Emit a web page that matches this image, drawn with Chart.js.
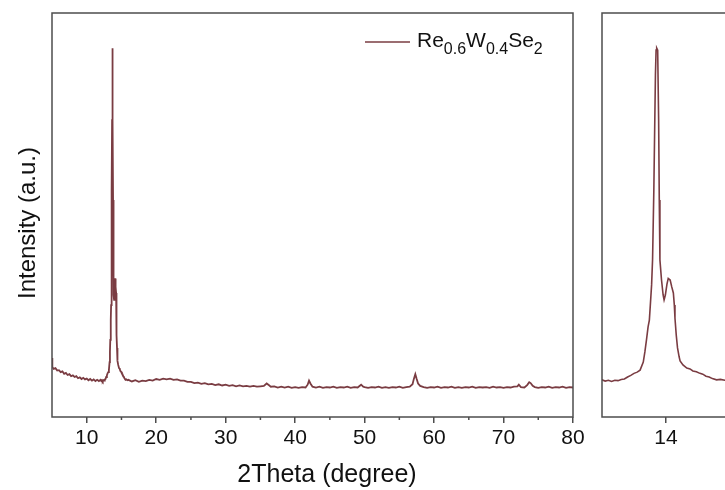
<!DOCTYPE html>
<html>
<head>
<meta charset="utf-8">
<title>Re0.6W0.4Se2 XRD</title>
<script src="https://cdn.jsdelivr.net/npm/chart.js@4.4.1/dist/chart.umd.min.js"></script>
<style>
    html, body { margin: 0; padding: 0; background: #fff; overflow: hidden; }
    #wrap { position: relative; width: 725px; height: 490px; overflow: hidden; }
    #main { position: absolute; left: 0; top: 0; }
    #zoom { position: absolute; left: 590px; top: 0; }
</style>
</head>
<body>
<div id="wrap">
    <canvas id="main" width="590" height="490"></canvas>
    <canvas id="zoom" width="200" height="490"></canvas>
</div>
<script>
// XRD pattern, 2theta in degrees and intensity in arbitrary units
var twoTheta = [
    5.00, 5.05, 5.25, 5.50, 5.75, 6.00, 6.25, 6.50, 6.75, 7.00, 7.25, 7.50, 7.75, 8.00, 8.25, 8.50, 8.75,
    9.00, 9.25, 9.50, 9.75, 10.00, 10.25, 10.50, 10.75, 11.00, 11.25, 11.50, 11.75,
    12.0, 12.1, 12.2, 12.3, 12.4, 12.5, 12.6, 12.7, 12.8, 12.9, 13.0, 13.1,
    13.19, 13.29, 13.34, 13.39, 13.44, 13.48, 13.51, 13.55, 13.58, 13.62, 13.65, 13.67, 13.69, 13.71,
    13.74, 13.77, 13.79, 13.81, 13.86, 13.91, 13.94, 13.98, 14.03, 14.07, 14.13, 14.18, 14.23, 14.26,
    14.28, 14.32, 14.36, 14.41, 14.44, 14.53, 14.65,
    14.75, 14.84, 14.95, 15.06, 15.15, 15.25, 15.35, 15.45, 15.58, 15.70, 15.84, 16.0,
    16.5, 17.0, 17.5, 18.0, 18.5, 19.0, 19.5, 20.0, 20.5, 21.0, 21.5, 22.0, 22.5, 23.0, 23.5, 24.0,
    24.5, 25.0, 25.5, 26.0, 26.5, 27.0, 27.5, 28.0, 28.5, 29.0, 29.5, 30.0, 30.5, 31.0, 31.5, 32.0,
    32.5, 33.0, 33.5, 34.0, 34.5, 35.0, 35.5, 35.9, 36.2, 36.5, 37.0, 37.5, 38.0, 38.5, 39.0, 39.5,
    40.0, 40.5, 41.0, 41.5, 41.8, 42.0, 42.2, 42.5, 43.0, 43.5, 44.0, 44.5, 45.0, 45.5, 46.0, 46.5,
    47.0, 47.5, 48.0, 48.5, 49.0, 49.5, 49.8, 50.0, 50.5, 51.0, 51.5, 52.0, 52.5, 53.0, 53.5, 54.0,
    54.5, 55.0, 55.5, 56.0, 56.5, 56.9, 57.1, 57.3, 57.5, 57.7, 58.0, 58.5, 59.0, 59.5, 60.0, 60.5,
    61.0, 61.5, 62.0, 62.5, 63.0, 63.5, 64.0, 64.5, 65.0, 65.5, 66.0, 66.5, 67.0, 67.5, 68.0, 68.5,
    69.0, 69.5, 70.0, 70.5, 71.0, 71.5, 72.0, 72.2, 72.5, 73.0, 73.4, 73.7, 73.9, 74.2, 74.5, 75.0,
    75.5, 76.0, 76.5, 77.0, 77.5, 78.0, 78.5, 79.0, 79.5, 80.0
];
var intensity = [
    146, 124, 119, 121, 115, 116, 111, 113, 107, 109, 104, 106, 101, 103, 99, 101, 96,
    98, 94, 97, 93, 95, 91, 94, 90, 93, 89, 92, 89,
    92, 89, 91, 88, 91, 90, 93, 94, 99, 103, 108, 111,
    116, 136, 161, 191, 223, 240, 277, 327, 389, 562, 735, 847, 908, 913,
    908, 735, 537, 389, 339, 302, 290, 302, 329, 343, 339, 322, 307, 277,
    245, 203, 171, 149, 139, 129, 121,
    119, 114, 112, 108, 106, 101, 99, 95, 92, 93, 91, 92,
    88, 91, 87, 90, 89, 92, 90, 94, 92, 95, 93, 95, 92, 93, 90, 90,
    87, 87, 84, 85, 82, 84, 81, 82, 79, 81, 78, 80, 77, 79, 76, 78,
    76, 77, 75, 77, 75, 76, 77, 83, 79, 75, 76, 73, 75, 73, 75, 72,
    74, 72, 74, 73, 80, 90, 83, 75, 73, 75, 72, 74, 73, 75, 72, 74,
    73, 75, 72, 74, 73, 80, 75, 74, 72, 74, 73, 75, 72, 74, 72, 74,
    73, 75, 72, 74, 75, 81, 95, 106, 94, 83, 77, 74, 72, 74, 73, 75,
    72, 74, 73, 75, 72, 74, 72, 74, 73, 75, 72, 74, 73, 74, 72, 75,
    73, 74, 72, 74, 73, 75, 76, 80, 74, 73, 79, 86, 84, 77, 74, 72,
    74, 73, 75, 72, 74, 73, 75, 72, 74, 73
];

var mainTicks = [10, 20, 30, 40, 50, 60, 70, 80];
var mainMinorTicks = [15, 25, 35, 45, 55, 65, 75];
var zoomTicks = [14];

// legend text pieces, every second one is a subscript
var seriesName = ["Re", "0.6", "W", "0.4", "Se", "2"];

var lineColor = "#7a3c42";
var axisColor = "#4d4d4d";
var textColor = "#111";
var fontFamily = "'Liberation Sans', Arial, sans-serif";

Chart.defaults.font.family = fontFamily;
Chart.defaults.color = textColor;

var points = twoTheta.map(function (t, i) { return { x: t, y: intensity[i] }; });

// box round the plot area plus the short minor ticks
var framePlugin = {
    id: "frame",
    afterDraw: function (chart, args, opts) {
        var a = chart.chartArea;
        var ctx = chart.ctx;
        ctx.save();
        ctx.strokeStyle = axisColor;
        ctx.lineWidth = 1.5;
        ctx.strokeRect(a.left, a.top, a.right - a.left, a.bottom - a.top);
        if (opts.minor) {
            var xs = chart.scales.x;
            opts.minor.forEach(function (v) {
                var px = xs.getPixelForValue(v);
                ctx.beginPath();
                ctx.moveTo(px, a.bottom);
                ctx.lineTo(px, a.bottom + 3);
                ctx.stroke();
            });
        }
        ctx.restore();
    }
};

// axis titles and the legend with subscripts
var labelPlugin = {
    id: "labels",
    afterDraw: function (chart) {
        var ctx = chart.ctx;
        var a = chart.chartArea;
        ctx.save();
        ctx.fillStyle = textColor;

        ctx.font = "25px " + fontFamily;
        ctx.textAlign = "center";
        ctx.textBaseline = "alphabetic";
        ctx.fillText("2Theta (degree)", 327, 482);

        ctx.font = "24px " + fontFamily;
        ctx.save();
        ctx.translate(35, 223);
        ctx.rotate(-Math.PI / 2);
        ctx.fillText("Intensity (a.u.)", 0, 0);
        ctx.restore();

        // legend
        var ly = a.top + 29;
        ctx.strokeStyle = lineColor;
        ctx.lineWidth = 1.5;
        ctx.beginPath();
        ctx.moveTo(365, ly);
        ctx.lineTo(410, ly);
        ctx.stroke();

        ctx.textAlign = "left";
        var x = 417;
        var base = ly + 5;
        seriesName.forEach(function (part, i) {
            var sub = i % 2 === 1;
            ctx.font = (sub ? "16px " : "21px ") + fontFamily;
            ctx.fillText(part, x, sub ? base + 6.5 : base);
            x += ctx.measureText(part).width;
        });
        ctx.restore();
    }
};

function xAxis(min, max, ticks, fixedHeight) {
    return {
        type: "linear",
        min: min,
        max: max,
        afterBuildTicks: function (scale) {
            scale.ticks = ticks.map(function (v) { return { value: v }; });
        },
        afterFit: function (scale) { scale.height = fixedHeight; },
        border: { display: false },
        grid: {
            drawOnChartArea: false,
            drawTicks: true,
            tickLength: 6,
            color: axisColor,
            lineWidth: 1.5
        },
        ticks: {
            font: { size: 21 },
            color: textColor,
            padding: 3,
            maxRotation: 0,
            autoSkip: false
        }
    };
}

function yAxis() {
    return { type: "linear", min: 0, max: 1000, display: false };
}

function dataset(width) {
    return {
        label: "Re0.6W0.4Se2",
        data: points,
        borderColor: lineColor,
        borderWidth: width,
        pointRadius: 0,
        tension: 0,
        fill: false
    };
}

new Chart(document.getElementById("main"), {
    type: "line",
    data: { datasets: [dataset(1.8)] },
    options: {
        responsive: false,
        animation: false,
        events: [],
        layout: { padding: { left: 52, top: 13, right: 17, bottom: 0 } },
        scales: {
            x: xAxis(5, 80, mainTicks, 73),
            y: yAxis()
        },
        plugins: {
            legend: { display: false },
            tooltip: { enabled: false },
            frame: { minor: mainMinorTicks }
        }
    },
    plugins: [framePlugin, labelPlugin]
});

// enlarged view of the (001) reflection
new Chart(document.getElementById("zoom"), {
    type: "line",
    data: { datasets: [dataset(1.6)] },
    options: {
        responsive: false,
        animation: false,
        events: [],
        layout: { padding: { left: 12, top: 13, right: 60, bottom: 0 } },
        scales: {
            x: xAxis(12, 16, zoomTicks, 73),
            y: yAxis()
        },
        plugins: {
            legend: { display: false },
            tooltip: { enabled: false },
            frame: {}
        }
    },
    plugins: [framePlugin]
});
</script>
</body>
</html>
